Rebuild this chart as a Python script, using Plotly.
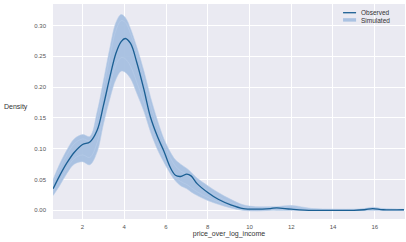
import plotly.graph_objects as go

# x grid shared by the observed and simulated density curves
x_grid = [0.59, 0.9, 1.25, 1.6, 2.0, 2.35, 2.7, 3.0, 3.3, 3.6, 3.85, 4.05, 4.3,
          4.6, 4.95, 5.25, 5.6, 5.9, 6.2, 6.45, 6.7, 7.0, 7.2, 7.5, 8.0, 8.5,
          9.1, 9.7, 10.3, 11.0, 11.3, 12.0, 13.0, 14.0, 15.0, 15.5, 15.9,
          16.4, 17.4]

observed = [0.035, 0.056, 0.077, 0.094, 0.107, 0.111, 0.130, 0.170, 0.215,
            0.255, 0.274, 0.279, 0.271, 0.240, 0.195, 0.152, 0.119, 0.096,
            0.070, 0.057, 0.055, 0.059, 0.056, 0.043, 0.029, 0.018, 0.009,
            0.003, 0.002, 0.003, 0.004, 0.002, 0.0, 0.0, 0.0, 0.001, 0.003,
            0.001, 0.001]

sim_upper = [0.050, 0.075, 0.098, 0.116, 0.123, 0.120, 0.160, 0.210, 0.262,
             0.305, 0.318, 0.313, 0.295, 0.265, 0.225, 0.185, 0.145, 0.116,
             0.095, 0.082, 0.075, 0.068, 0.062, 0.052, 0.040, 0.029, 0.018,
             0.009, 0.006, 0.006, 0.006, 0.008, 0.003, 0.002, 0.002, 0.003,
             0.005, 0.003, 0.002]

sim_lower = [0.024, 0.040, 0.060, 0.075, 0.079, 0.074, 0.095, 0.140, 0.180,
             0.213, 0.226, 0.224, 0.214, 0.190, 0.160, 0.128, 0.098, 0.078,
             0.060, 0.048, 0.040, 0.035, 0.030, 0.024, 0.016, 0.010, 0.004,
             0.000, -0.001, 0.0, 0.0, 0.0, 0.0, 0.0, 0.0, 0.0, 0.0, 0.0, 0.0]

# a few individual simulated draws for texture inside the band
sim_draws = [
    [0.045, 0.068, 0.090, 0.108, 0.116, 0.113, 0.148, 0.198, 0.248, 0.292,
     0.308, 0.305, 0.287, 0.255, 0.212, 0.172, 0.135, 0.108, 0.086, 0.072,
     0.064, 0.058, 0.052, 0.043, 0.032, 0.022, 0.013, 0.006, 0.004, 0.004,
     0.004, 0.006, 0.002, 0.001, 0.001, 0.002, 0.004, 0.002, 0.001],
    [0.030, 0.048, 0.068, 0.084, 0.090, 0.086, 0.110, 0.158, 0.200, 0.236,
     0.248, 0.246, 0.234, 0.208, 0.174, 0.140, 0.108, 0.086, 0.066, 0.054,
     0.047, 0.042, 0.037, 0.030, 0.021, 0.014, 0.007, 0.002, 0.001, 0.001,
     0.001, 0.002, 0.0, 0.0, 0.0, 0.001, 0.001, 0.0, 0.0],
]

x_ticks = [2, 4, 6, 8, 10, 12, 14, 16]
y_ticks = [0.0, 0.05, 0.10, 0.15, 0.20, 0.25, 0.30]

sim_fill = "rgba(166,192,224,0.95)"
sim_line = "rgba(185,205,232,0.7)"
obs_color = "#1b5f93"

fig = go.Figure()
fig.add_trace(go.Scatter(
    x=x_grid, y=sim_lower, mode="lines", line={"color": sim_line, "width": 0.8, "shape": "spline"},
    showlegend=False, hoverinfo="skip",
))
fig.add_trace(go.Scatter(
    x=x_grid, y=sim_upper, mode="lines", fill="tonexty", fillcolor=sim_fill,
    line={"color": sim_line, "width": 0.8, "shape": "spline"},
    name="Simulated", showlegend=False,
))
for draw in sim_draws:
    fig.add_trace(go.Scatter(
        x=x_grid, y=draw, mode="lines",
        line={"color": "rgba(190,210,235,0.7)", "width": 0.6, "shape": "spline"},
        showlegend=False, hoverinfo="skip",
    ))
fig.add_trace(go.Scatter(
    x=x_grid, y=observed, mode="lines",
    line={"color": obs_color, "width": 1.3, "shape": "spline"},
    name="Observed", showlegend=False,
))

# compact legend, drawn by hand (plotly's legend rows are much taller)
legend_font = {"size": 6.5, "color": "#333333"}
fig.add_shape(type="line", xref="paper", yref="paper", x0=0.824, x1=0.861,
              y0=0.9595, y1=0.9595, line={"color": obs_color, "width": 1.3})
fig.add_shape(type="rect", xref="paper", yref="paper", x0=0.824, x1=0.861,
              y0=0.918, y1=0.934, line={"width": 0}, fillcolor=sim_fill)
fig.add_annotation(text="Observed", xref="paper", yref="paper", x=0.869, y=0.9595,
                   xanchor="left", yanchor="middle", showarrow=False, font=legend_font)
fig.add_annotation(text="Simulated", xref="paper", yref="paper", x=0.869, y=0.924,
                   xanchor="left", yanchor="middle", showarrow=False, font=legend_font)

fig.add_annotation(
    text="Density", xref="paper", yref="paper", x=-0.066, y=0.52,
    xanchor="right", yanchor="middle", showarrow=False,
    font={"size": 7, "color": "#333333"},
)

fig.update_layout(
    width=406, height=242,
    margin={"l": 53, "r": 1, "t": 4, "b": 23},
    paper_bgcolor="white",
    plot_bgcolor="#EAEAF2",
    font={"family": "Liberation Sans, Arial, sans-serif", "size": 6, "color": "#555555"},
    showlegend=False,
    xaxis={
        "range": [0.585, 17.45], "tickvals": x_ticks, "showgrid": True,
        "gridcolor": "white", "gridwidth": 1, "zeroline": False, "automargin": False,
        "title": {"text": "price_over_log_income", "font": {"size": 7, "color": "#333333"}, "standoff": 2},
        "ticks": "", "ticklabelstandoff": 3,
    },
    yaxis={
        "range": [-0.014, 0.335], "tickvals": y_ticks, "tickformat": ".2f",
        "showgrid": True, "gridcolor": "white", "gridwidth": 1, "zeroline": False,
        "automargin": False, "ticks": "", "ticklabelstandoff": 6,
    },
)

# the page body has a default 8px margin; drop it so the figure sits at the corner
fig.write_html(
    "out.html",
    config={"displayModeBar": False},
    post_script="document.body.style.margin='0';",
)
